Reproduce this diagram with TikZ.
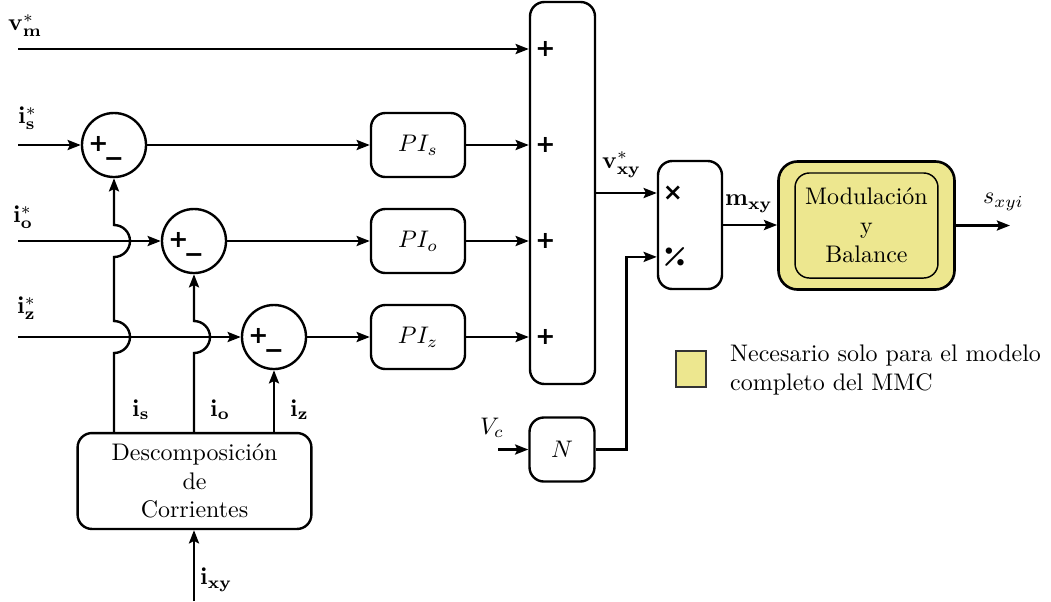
\documentclass[tikz,border=0pt]{standalone}
\usepackage{amsmath}
\usepackage[no-math]{fontspec}
\newfontfamily\signfont{DejaVu Sans}
\usepackage{xcolor}
\definecolor{Pale Yellow}{HTML}{EDE78F}
\colorlet{cYellow}{Pale Yellow}
\usepackage{tikz}
\usetikzlibrary{calc, arrows.meta, positioning}
\tikzset{
	>={Stealth[length=5.5pt, width=4.2pt, inset=1pt]},
	block/.style={
		draw,
		rounded corners=6pt,
		line width=1pt,
		minimum width=39.2pt,
		minimum height=26.7pt,
		inner sep=2pt
	},
	opsign/.style={
		inner sep=0pt,
		font=\signfont\bfseries
	},
	summer/.style={
		draw,
		circle,
		line width=1pt,
		minimum size=26.7pt,
		path picture={
			\node[opsign] at ([xshift=-6.5pt, yshift=.4pt]path picture bounding box.center) {+};
			\node[opsign] at ([yshift=-6.9pt]path picture bounding box.center) {\symbol{"2212}};
		}
	},
	signal/.style={
		->,
		line width=1pt
	},
	lbl/.style={
		inner sep=0pt
	}
}
\newcommand{\jr}{6.67pt}

\begin{document}
\begin{tikzpicture}[x=0.417pt, y=-0.417pt, line width=1pt]
\useasboundingbox (0,0) rectangle (1051,601);
% ---
% reference inputs
% ---
\coordinate (in-m) at (18,49);
\coordinate (in-s) at (18,145);
\coordinate (in-o) at (18,241);
\coordinate (in-z) at (18,337);
\node[lbl, anchor=south west] (l-m) at (7,38) {$\mathbf{v}^*_\mathbf{m}$};
\node[lbl, anchor=south west] (l-s) at (17,131) {$\mathbf{i}^*_\mathbf{s}$};
\node[lbl, anchor=south west] (l-o) at (12,230) {$\mathbf{i}^*_\mathbf{o}$};
\node[lbl, anchor=south west] (l-z) at (16,321) {$\mathbf{i}^*_\mathbf{z}$};

% ---
% current loops
% ---
\node[summer] (sum-s) at (114,145) {};
\node[summer] (sum-o) at (194,241) {};
\node[summer] (sum-z) at (274,337) {};

\node[block] (pi-s) at (418,145) {$PI_s$};
\node[block] (pi-o) at (418,241) {$PI_o$};
\node[block] (pi-z) at (418,337) {$PI_z$};

\node[block, minimum width=27.1pt, minimum height=159.3pt] (add) at (562.5,193) {};
\foreach \r in {in-m, pi-s, pi-o, pi-z}
	\node[opsign] at ([xshift=6.9pt]add.west |- \r) {+};

\draw[signal] (in-m) -- (in-m -| add.west);
\draw[signal] (in-s) -- (sum-s);
\draw[signal] (in-o) -- (sum-o);
\draw[signal] (in-z) -- (sum-z);
\draw[signal] (sum-s) -- (pi-s);
\draw[signal] (sum-o) -- (pi-o);
\draw[signal] (sum-z) -- (pi-z);
\draw[signal] (pi-s) -- (pi-s -| add.west);
\draw[signal] (pi-o) -- (pi-o -| add.west);
\draw[signal] (pi-z) -- (pi-z -| add.west);

% ---
% current decomposition
% ---
\node[block, minimum width=97.5pt, minimum height=40pt, align=center] (dec) at (194.5,481) {Descomposición\\de\\Corrientes};
\coordinate (in-xy) at (194,601);
\draw[signal] (in-xy) -- (in-xy |- dec.south);
\node[lbl, anchor=south west] (l-xy) at (199,593) {$\mathbf{i}_\mathbf{xy}$};

\draw[signal] (sum-s |- dec.north) -- ([yshift=-\jr]sum-s |- pi-z)
	arc[start angle=-90, end angle=90, radius=\jr] -- ([yshift=-\jr]sum-s |- pi-o)
	arc[start angle=-90, end angle=90, radius=\jr] -- (sum-s);
\draw[signal] (sum-o |- dec.north) -- ([yshift=-\jr]sum-o |- pi-z)
	arc[start angle=-90, end angle=90, radius=\jr] -- (sum-o);
\draw[signal] (sum-z |- dec.north) -- (sum-z);
\node[lbl, anchor=south west] (l-is) at (131,421) {$\mathbf{i}_\mathbf{s}$};
\node[lbl, anchor=south west] (l-io) at (209,421) {$\mathbf{i}_\mathbf{o}$};
\node[lbl, anchor=south west] (l-iz) at (289,421) {$\mathbf{i}_\mathbf{z}$};

% ---
% normalisation and modulation
% ---
\node[block, minimum width=26.7pt, minimum height=53.4pt] (mul) at (690,225) {};
\node[opsign] at ([xshift=6.7pt, yshift=13.3pt]mul.west) {×};
\node[lbl] at ([xshift=7.6pt, yshift=-13.3pt]mul.west) {\rotatebox{45}{\scalebox{1.4}{$\boldsymbol{\div}$}}};

\node[block, minimum width=27.1pt, minimum height=26.7pt] (gain) at (562,449.5) {$N$};
\coordinate (in-vc) at (498,449.5);
\node[lbl, anchor=south west] (l-vc) at (479,439) {$V_c$};

\node[block, fill=cYellow, rounded corners=8pt, line width=1.1pt, minimum width=73.4pt, minimum height=53.4pt] (mod) at (866.5,225.5) {};
\node[block, line width=.6pt, minimum width=59.6pt, minimum height=43.8pt, align=center] (mod-in) at (mod) {Modulación\\y\\Balance};
\coordinate (out) at (1010,225.5);

\draw[signal] (add.east) -- (add.east -| mul.west);
\node[lbl, anchor=south west] (l-vxy) at (601,179) {$\mathbf{v}^*_\mathbf{xy}$};
\draw[signal] (in-vc) -- (gain);
\draw[signal] (gain.east) -- ++(12.9pt,0) |- ([yshift=-13.3pt]mul.west);
\draw[signal] (mul.east) -- (mul.east -| mod.west);
\node[lbl, anchor=south west] (l-mxy) at (724,214) {$\mathbf{m}_\mathbf{xy}$};
\draw[signal] (mod.east) -- (mod.east -| out);
\node[lbl, anchor=south west] (l-sxyi) at (982,212) {$s_{xyi}$};

% ---
% legend
% ---
\node[draw=black!80, line width=.5pt, fill=cYellow, minimum width=12.5pt, minimum height=15pt, inner sep=0pt] (leg) at (691,369) {};
\node[lbl, anchor=west, align=left] (leg-txt) at (729,370) {Necesario solo para el modelo\\completo del MMC};
\end{tikzpicture}
\end{document}
